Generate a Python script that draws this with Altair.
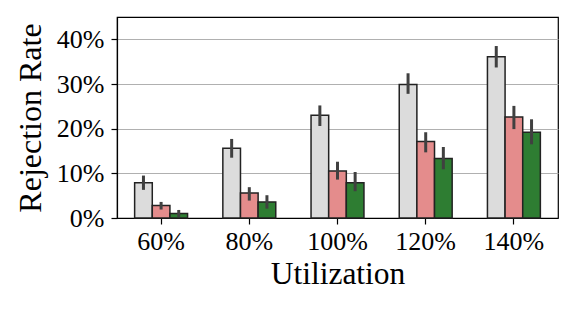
import altair as alt
import pandas as pd

categories = ["60%", "80%", "100%", "120%", "140%"]
series = ["Baseline", "Method A", "Method B"]
colors = ["#dcdcdc", "#e48c8c", "#2e7d32"]

# values in percent
baseline_vals = [7.9, 15.6, 23.0, 29.9, 36.1]
baseline_lo = [6.3, 13.5, 20.6, 27.8, 33.7]
baseline_hi = [9.5, 17.7, 25.2, 32.4, 38.5]

method_a_vals = [2.8, 5.6, 10.5, 17.1, 22.6]
method_a_lo = [1.9, 3.9, 8.6, 14.7, 19.9]
method_a_hi = [3.6, 6.9, 12.6, 19.2, 25.1]

method_b_vals = [1.0, 3.6, 7.9, 13.3, 19.2]
method_b_lo = [0.2, 2.1, 6.0, 10.9, 16.5]
method_b_hi = [1.8, 5.1, 10.3, 15.9, 22.1]

rows = []
for s, vals, lo, hi in [
    (series[0], baseline_vals, baseline_lo, baseline_hi),
    (series[1], method_a_vals, method_a_lo, method_a_hi),
    (series[2], method_b_vals, method_b_lo, method_b_hi),
]:
    for c, v, l, h in zip(categories, vals, lo, hi):
        rows.append({"cat": c, "series": s, "value": v / 100, "lo": l / 100, "hi": h / 100})
df = pd.DataFrame(rows)

FONT = "Liberation Serif"

x_enc = alt.X(
    "cat:N",
    sort=categories,
    scale=alt.Scale(paddingInner=0.4, paddingOuter=0.2),
    axis=alt.Axis(
        title="Utilization", labelAngle=0, grid=False, tickSize=6, labelPadding=4,
        titlePadding=4, titleFontSize=31.5,
    ),
)
xoff_enc = alt.XOffset("series:N", sort=series, scale=alt.Scale(paddingInner=0, paddingOuter=0))

base = alt.Chart(df)

bars = base.mark_bar(stroke="#222222", strokeWidth=1.5).encode(
    x=x_enc,
    xOffset=xoff_enc,
    y=alt.Y(
        "value:Q",
        scale=alt.Scale(domain=[0, 0.45], nice=False),
        axis=alt.Axis(
            title="Rejection Rate", format=".0%", values=[0, 0.1, 0.2, 0.3, 0.4],
            grid=True, tickSize=6, labelPadding=7, titlePadding=9, titleFontSize=32,
        ),
    ),
    color=alt.Color("series:N", scale=alt.Scale(domain=series, range=colors), legend=None),
)

err = base.mark_rule(color="#404040", strokeWidth=3).encode(
    x=x_enc,
    xOffset=xoff_enc,
    y="lo:Q",
    y2="hi:Q",
)

chart = (
    alt.layer(bars, err)
    .properties(
        width=441,
        height=201,
        autosize=alt.AutoSizeParams(type="none"),
        padding={"left": 109, "top": 9, "right": 8, "bottom": 84},
    )
    .configure_view(stroke="black", strokeWidth=1.2)
    .configure_axis(
        labelFont=FONT, titleFont=FONT, labelFontSize=26,
        labelColor="black", titleColor="black", titleFontWeight="normal",
        domainColor="black", tickColor="black", gridColor="#b0b0b0", gridWidth=1,
        domainWidth=1.2, tickWidth=1.2,
    )
)

chart.save("out.html", embed_options={"renderer": "svg", "actions": False})
